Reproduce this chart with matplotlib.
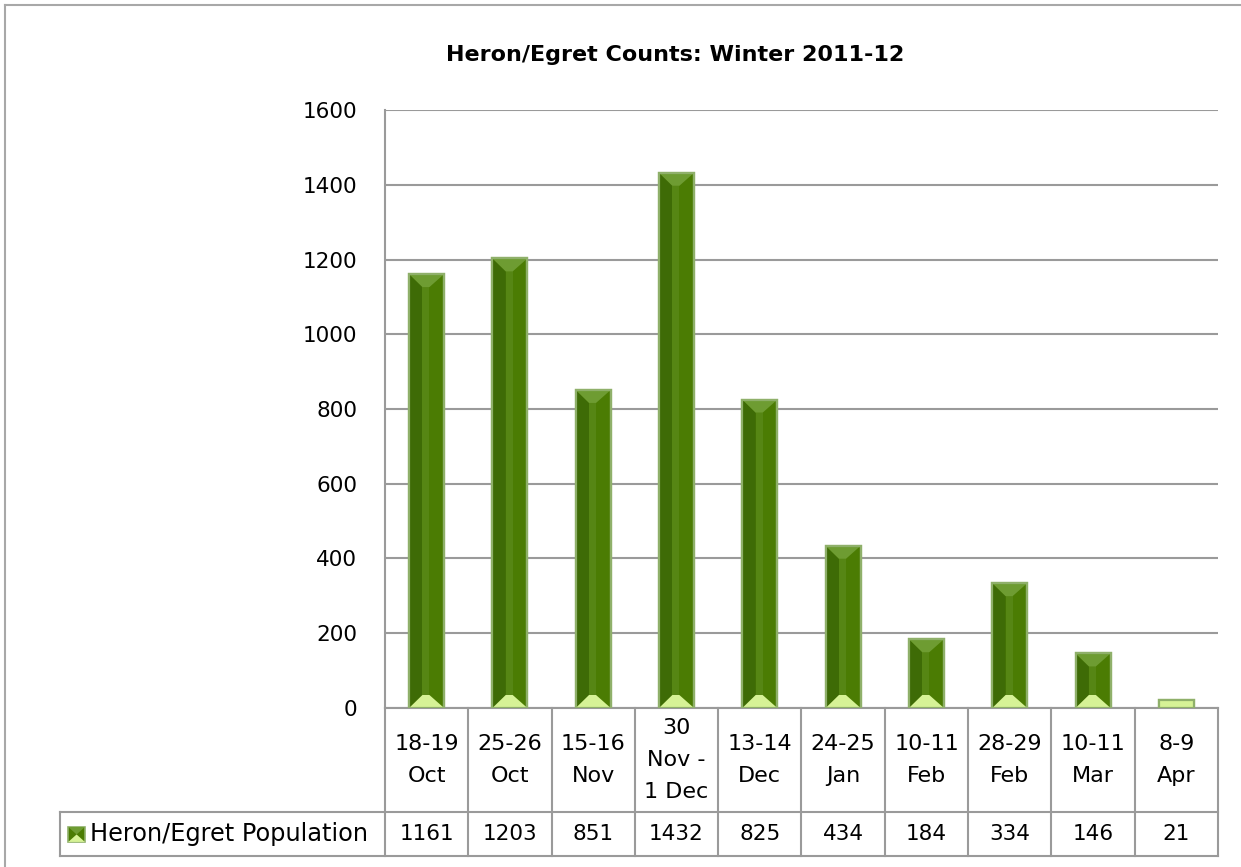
import numpy as np
import matplotlib
matplotlib.use("Agg")
from matplotlib import pyplot as plt
from matplotlib.patches import Polygon, Rectangle
from matplotlib.lines import Line2D

# data
fechas = ["18-19\nOct", "25-26\nOct", "15-16\nNov", "30\nNov -\n1 Dec", "13-14\nDec",
          "24-25\nJan", "10-11\nFeb", "28-29\nFeb", "10-11\nMar", "8-9\nApr"]
poblacion = [1161, 1203, 851, 1432, 825, 434, 184, 334, 146, 21]
serie = "Heron/Egret Population"
titulo = "Heron/Egret Counts: Winter 2011-12"
yticks = [0, 200, 400, 600, 800, 1000, 1200, 1400, 1600]

plt.rcParams['font.family'] = ['DejaVu Sans']
gris = "#9a9a9a"

fig = plt.figure(figsize=(12.41, 8.67), dpi=100)
ax = fig.add_axes([0.3102, 0.1834, 0.6713, 0.6897])

x = np.arange(len(poblacion))
ancho = 0.42
ax.set_xlim(-0.5, len(poblacion) - 0.5)
ax.set_ylim(0, 1600)
ax.set_yticks(yticks)
ax.set_xticks([])
ax.tick_params(axis='y', length=0, pad=20, labelsize=15.5)
ax.yaxis.grid(True, color=gris, lw=1.5)
ax.set_axisbelow(True)
for s in ["top", "right", "bottom"]:
    ax.spines[s].set_visible(False)
ax.spines["left"].set_color(gris)
ax.spines["left"].set_linewidth(1.5)

# barras con bisel
bev = 13 * 1600 / 598.0
barras = ax.bar(x, poblacion, width=ancho, color="#4b7c03", edgecolor="#8fb06a", lw=1.6, zorder=3)
for xi, v in zip(x, poblacion):
    l, r = xi - ancho / 2, xi + ancho / 2
    il, ir = xi - ancho * 0.12, xi + ancho * 0.08
    bot = min(bev, v)
    top = min(bev, max(v - bot, 0))
    # cara izquierda oscura y franja central
    ax.add_patch(Polygon([(l, 0), (il, bot), (il, v - top), (l, v)], closed=True,
                         fc="#3e6b06", ec="none", zorder=4))
    ax.add_patch(Polygon([(il, bot), (ir, bot), (ir, v - top), (il, v - top)], closed=True,
                         fc="#568614", ec="none", zorder=4))
    if top > 0:
        ax.add_patch(Polygon([(l, v), (r, v), (ir, v - top), (il, v - top)], closed=True,
                             fc="#6e9c32", ec="none", zorder=4))
    if v - bot <= 0:
        ax.add_patch(Rectangle((l, 0), ancho, v, fc="#d6f296", ec="none", zorder=4))
    else:
        ax.add_patch(Polygon([(l, 0), (r, 0), (ir, bot), (il, bot)], closed=True,
                             fc="#d6f296", ec="none", zorder=4))
    ax.add_patch(Rectangle((l, 0), ancho, v, fc="none", ec="#8fb06a", lw=1.6, zorder=5))

# tabla de datos bajo el eje
tr = ax.get_xaxis_transform()
f1 = -104 / 598.0
f2 = -148 / 598.0
izq = -0.5 - 325 / 83.3
kw = dict(color=gris, lw=1.5, clip_on=False, transform=tr)
ax.add_line(Line2D([-0.5, len(poblacion) - 0.5], [0, 0], **kw))
ax.add_line(Line2D([izq, len(poblacion) - 0.5], [f1, f1], **kw))
ax.add_line(Line2D([izq, len(poblacion) - 0.5], [f2, f2], **kw))
ax.add_line(Line2D([izq, izq], [f1, f2], **kw))
for b in np.arange(len(poblacion) + 1) - 0.5:
    ax.add_line(Line2D([b, b], [0, f2], **kw))

for xi, lab, v in zip(x, fechas, poblacion):
    ax.text(xi, f1 / 2, lab, transform=tr, ha="center", va="center", fontsize=16,
            linespacing=1.75, clip_on=False)
    ax.text(xi, (f1 + f2) / 2, str(v), transform=tr, ha="center", va="center",
            fontsize=15.5, clip_on=False)

ax.text(izq + 0.36, (f1 + f2) / 2, serie, transform=tr, ha="left", va="center",
        fontsize=17.3, clip_on=False)
# clave de leyenda
kx, kw2 = izq + 0.1, 0.2
ky0, ky1 = -0.2240, -0.1990
ax.add_patch(Rectangle((kx, ky0), kw2, ky1 - ky0, fc="#4b7c03", ec="#8fb06a", lw=1.2,
                       transform=tr, clip_on=False))
ax.add_patch(Polygon([(kx, ky0), (kx + kw2, ky0), (kx + kw2 / 2, (ky0 + ky1) / 2)], closed=True,
                     fc="#d6f296", ec="none", transform=tr, clip_on=False))
ax.add_patch(Polygon([(kx, ky1), (kx + kw2, ky1), (kx + kw2 / 2, (ky0 + ky1) / 2)], closed=True,
                     fc="#6e9c32", ec="none", transform=tr, clip_on=False))

fig.text(0.544, 0.9366, titulo, ha="center", va="center", fontsize=16, fontweight="bold")

# borde exterior (solo arriba e izquierda)
fig.add_artist(Line2D([5 / 1241, 1.0], [1 - 5 / 867, 1 - 5 / 867], color="#a8a8a8", lw=1.5,
                      transform=fig.transFigure))
fig.add_artist(Line2D([5 / 1241, 5 / 1241], [0, 1 - 5 / 867], color="#a8a8a8", lw=1.5,
                      transform=fig.transFigure))

fig.savefig("out.png", dpi=100)
